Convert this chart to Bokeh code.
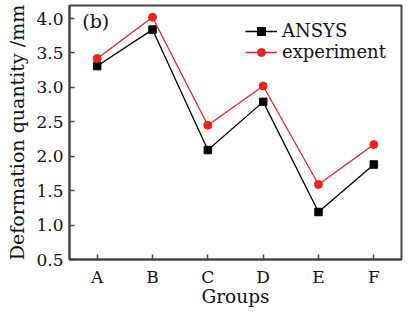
from bokeh.plotting import figure
from bokeh.models import Range1d, FixedTicker, PrintfTickFormatter, Legend, LegendItem, Label
from bokeh.embed import file_html
from bokeh.resources import INLINE

groups = ["A", "B", "C", "D", "E", "F"]
ansys = [3.31, 3.84, 2.09, 2.79, 1.19, 1.88]
experiment = [3.42, 4.02, 2.45, 3.02, 1.59, 2.17]
y_ticks = [0.5, 1.0, 1.5, 2.0, 2.5, 3.0, 3.5, 4.0]

FONT = "DejaVu Serif"
xs = list(range(len(groups)))

p = figure(width=404, height=309, output_backend="svg", toolbar_location=None,
           x_range=Range1d(-0.5, 5.5), y_range=Range1d(0.5, 4.19),
           min_border_left=69, min_border_right=3, min_border_top=5, min_border_bottom=42)
p.grid.visible = False
p.outline_line_color = "#444444"
p.outline_line_width = 2
p.background_fill_color = "white"
p.border_fill_color = "white"

for ax in (p.xaxis[0], p.yaxis[0]):
    ax.axis_line_color = "#444444"
    ax.axis_line_width = 2
    ax.major_tick_in = 5
    ax.major_tick_out = 0
    ax.minor_tick_line_color = None
    ax.major_tick_line_color = "#444444"
    ax.major_tick_line_width = 1.5
    ax.major_label_text_font = FONT
    ax.major_label_text_font_size = "17px"
    ax.major_label_text_color = "#111111"
    ax.axis_label_text_font = FONT
    ax.axis_label_text_font_size = "19px"
    ax.axis_label_text_font_style = "normal"
    ax.axis_label_text_color = "#111111"

p.xaxis.ticker = FixedTicker(ticks=xs)
p.xaxis.major_label_overrides = {i: g for i, g in enumerate(groups)}
p.xaxis.axis_label = "Groups"
p.xaxis.axis_label_text_font_size = "18.5px"
p.xaxis.axis_label_standoff = -4
p.xaxis.major_label_standoff = 7

p.yaxis.ticker = FixedTicker(ticks=y_ticks)
p.yaxis.formatter = PrintfTickFormatter(format="%.1f")
p.yaxis.axis_label = "Deformation quantity /mm"
p.yaxis.axis_label_standoff = 5
p.yaxis.major_label_standoff = 6

l1 = p.line(xs, ansys, line_color="black", line_width=1.3)
m1 = p.scatter(xs, ansys, marker="square", size=7.5, fill_color="black", line_color="black")
l2 = p.line(xs, experiment, line_color="#ee2222", line_width=1.3)
m2 = p.scatter(xs, experiment, marker="circle", size=8, fill_color="#ee2222", line_color="#ee2222")

legend = Legend(items=[LegendItem(label="ANSYS", renderers=[l1, m1]),
                       LegendItem(label="experiment", renderers=[l2, m2])],
                location=(176, 197))
legend.border_line_color = None
legend.background_fill_alpha = 0
legend.label_text_font = FONT
legend.label_text_font_size = "18px"
legend.label_text_color = "#111111"
legend.glyph_width = 32
legend.spacing = -3
legend.margin = 0
legend.padding = 0
legend.label_standoff = 5
p.add_layout(legend)

p.add_layout(Label(x=-0.27, y=3.97, text="(b)", text_font=FONT, text_font_size="19px",
                   text_color="#111111", text_baseline="middle"))

open("out.html", "w").write(file_html(p, INLINE))
